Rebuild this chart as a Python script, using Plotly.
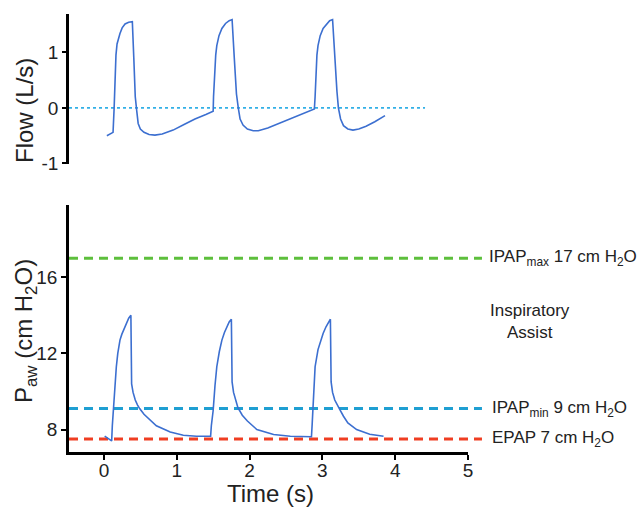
import plotly.graph_objects as go

# ---- data ----
flow_t = [0.04, 0.125, 0.14, 0.155, 0.165, 0.18, 0.20, 0.22, 0.25, 0.29, 0.34, 0.39, 0.41, 0.43, 0.45, 0.47, 0.50,
          0.55, 0.62, 0.70, 0.80, 0.95, 1.10, 1.25, 1.40, 1.50,
          1.505, 1.52, 1.535, 1.55, 1.58, 1.62, 1.67, 1.72, 1.76, 1.79, 1.82, 1.845, 1.87, 1.91, 1.97, 2.05, 2.12,
          2.25, 2.40, 2.55, 2.70, 2.89,
          2.90, 2.91, 2.925, 2.94, 2.97, 3.01, 3.06, 3.10, 3.14, 3.17, 3.20, 3.22, 3.25, 3.29, 3.35, 3.42, 3.50,
          3.60, 3.72, 3.86]
flow_v = [-0.50, -0.44, 0.0, 0.60, 0.95, 1.15, 1.27, 1.34, 1.44, 1.51, 1.54, 1.55, 0.90, 0.20, -0.05, -0.28, -0.38,
          -0.44, -0.48, -0.49, -0.47, -0.40, -0.30, -0.20, -0.12, -0.06,
          0.20, 0.70, 0.95, 1.12, 1.30, 1.43, 1.52, 1.57, 1.59, 0.90, 0.25, 0.0, -0.20, -0.31, -0.38, -0.41, -0.41,
          -0.36, -0.28, -0.19, -0.11, -0.02,
          0.20, 0.70, 0.95, 1.12, 1.30, 1.43, 1.52, 1.57, 1.59, 0.90, 0.30, 0.0, -0.20, -0.32, -0.38, -0.40, -0.38,
          -0.33, -0.25, -0.14]

paw_t = [0.01, 0.106, 0.115, 0.128, 0.15, 0.17, 0.19, 0.22, 0.245, 0.27, 0.31, 0.34, 0.37,
         0.38, 0.40, 0.43, 0.46, 0.49, 0.55, 0.61, 0.72, 0.91, 1.09, 1.27, 1.465,
         1.475, 1.50, 1.525, 1.55, 1.585, 1.62, 1.655, 1.69, 1.72, 1.75,
         1.76, 1.78, 1.81, 1.84, 1.90, 1.97, 2.10, 2.33, 2.56, 2.85,
         2.86, 2.875, 2.90, 2.94, 2.975, 3.01, 3.05, 3.08, 3.11,
         3.12, 3.14, 3.17, 3.20, 3.24, 3.29, 3.35, 3.47, 3.65, 3.84]
paw_v = [7.65, 7.40, 8.2, 9.0, 10.4, 11.3, 12.0, 12.7, 13.0, 13.25, 13.66, 13.85, 14.0,
         10.4, 9.95, 9.55, 9.3, 9.1, 8.8, 8.6, 8.2, 7.87, 7.7, 7.65, 7.65,
         8.2, 9.0, 10.3, 11.3, 12.1, 12.7, 13.1, 13.4, 13.65, 13.8,
         10.5, 9.95, 9.5, 9.15, 8.75, 8.45, 8.0, 7.74, 7.65, 7.62,
         8.3, 9.6, 11.3, 12.2, 12.7, 13.05, 13.4, 13.6, 13.8,
         10.5, 9.95, 9.55, 9.3, 9.05, 8.7, 8.35, 8.0, 7.75, 7.65]

zero_t = [-0.48, 4.41]
zero_v = [0, 0]

level_names = ["IPAP<sub>max</sub> 17 cm H<sub>2</sub>O", "IPAP<sub>min</sub> 9 cm H<sub>2</sub>O", "EPAP 7 cm H<sub>2</sub>O"]
level_values = [17.0, 9.1, 7.5]
level_colors = ["#5dbf3c", "#1f9fd2", "#ef3e22"]

x_ticks = [0, 1, 2, 3, 4, 5]
flow_ticks = [-1, 0, 1]
flow_tick_text = ["-1", "0", "1"]
paw_ticks = [8, 12, 16]

FONT = "Liberation Sans, Arial, sans-serif"
LINE = "#3c6fd0"
TXT = "#222"

fig = go.Figure()
fig.add_trace(go.Scatter(x=zero_t, y=zero_v, mode="lines", xaxis="x", yaxis="y",
                         line=dict(color="#33b0e6", width=1.6, dash="dot"), hoverinfo="skip"))
fig.add_trace(go.Scatter(x=flow_t, y=flow_v, mode="lines", xaxis="x", yaxis="y",
                         line=dict(color=LINE, width=1.6)))

for v, c in zip(level_values, level_colors):
    fig.add_shape(type="line", xref="paper", yref="y2", x0=0, x1=1.035, y0=v, y1=v,
                  line=dict(color=c, width=3, dash="9px,6px"), layer="below")

fig.add_trace(go.Scatter(x=paw_t, y=paw_v, mode="lines", xaxis="x2", yaxis="y2",
                         line=dict(color=LINE, width=1.6)))

label_x = [487, 490, 490]
for name, v, lx in zip(level_names, level_values, label_x):
    fig.add_annotation(text=name, xref="paper", yref="y2", x=(lx - 69) / 399, y=v,
                       xanchor="left", yanchor="middle", showarrow=False,
                       font=dict(family=FONT, size=17, color=TXT))
fig.add_annotation(text="Inspiratory<br>Assist", xref="paper", yref="y2", x=(530 - 69) / 399, y=13.7,
                   xanchor="center", yanchor="middle", showarrow=False,
                   font=dict(family=FONT, size=17, color=TXT))

# axis titles as annotations for exact placement
fig.add_annotation(text="Flow (L/s)", xref="paper", yref="paper", x=(25 - 69) / 399, y=(452 - 111) / 438,
                   xanchor="center", yanchor="middle", textangle=-90, showarrow=False,
                   font=dict(family=FONT, size=24, color=TXT))
fig.add_annotation(text="P<sub>aw</sub> (cm H<sub>2</sub>O)", xref="paper", yref="paper",
                   x=(26 - 69) / 399, y=(452 - 331) / 438,
                   xanchor="center", yanchor="middle", textangle=-90, showarrow=False,
                   font=dict(family=FONT, size=24, color=TXT))
fig.add_annotation(text="Time (s)", xref="paper", yref="paper", x=(270 - 69) / 399, y=(452 - 493) / 438,
                   xanchor="center", yanchor="middle", showarrow=False,
                   font=dict(family=FONT, size=24, color=TXT))

def axis_common(ticklen=5, standoff=0):
    return dict(showgrid=False, zeroline=False, showline=True, linecolor="black", linewidth=2.5,
                ticks="outside", ticklen=ticklen, tickwidth=2, tickcolor="black", automargin=False,
                ticklabelstandoff=standoff,
                tickfont=dict(family=FONT, size=19, color=TXT))

fig.update_layout(
    width=638, height=508, showlegend=False,
    paper_bgcolor="white", plot_bgcolor="white",
    margin=dict(l=69, r=170, t=14, b=56),
    xaxis=dict(domain=[0, 1], range=[-0.48, 5.0], anchor="y", visible=False),
    yaxis=dict(domain=[0.6575, 1], range=[-1.01, 1.69], tickvals=flow_ticks, ticktext=flow_tick_text,
               **axis_common(4)),
    xaxis2=dict(domain=[0, 1], range=[-0.48, 5.0], anchor="y2", tickvals=x_ticks, **axis_common(5, -6)),
    yaxis2=dict(domain=[0, 0.564], range=[6.82, 19.8], tickvals=paw_ticks, anchor="x2", **axis_common()),
)

fig.write_html("out.html", post_script="document.body.style.margin='0px';",
               config={"displayModeBar": False})
